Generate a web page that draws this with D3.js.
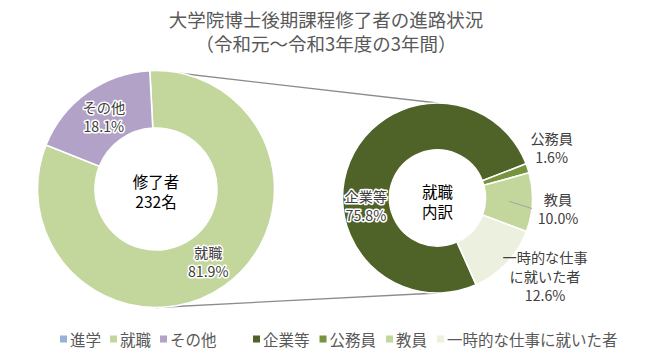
<!DOCTYPE html>
<html>
<head>
<meta charset="utf-8">
<script src="https://cdn.jsdelivr.net/npm/d3@7"></script>
<style>
  html, body { margin: 0; padding: 0; background: #fff; }
  svg { display: block; }
  text { font-family: "Noto Sans CJK JP", "Noto Sans", sans-serif; }
</style>
</head>
<body>
<svg id="chart" width="653" height="358"></svg>
<script>
// ---- data ----
const titleLines = ["大学院博士後期課程修了者の進路状況", "（令和元～令和3年度の3年間）"];
const outerCategories = ["進学", "就職", "その他"];
const outerValues = [0, 81.9, 18.1];
const innerCategories = ["企業等", "公務員", "教員", "一時的な仕事に就いた者"];
const innerValues = [75.8, 1.6, 10.0, 12.6];
const innerLabelNames = [["企業等"], ["公務員"], ["教員"], ["一時的な仕事", "に就いた者"]];
const totalGraduates = 232;
const outerCenterText = ["修了者", totalGraduates + "名"];
const innerCenterText = ["就職", "内訳"];

// ---- styles / layout ----
const outerColors = ["#95b3d7", "#c3d69b", "#b3a2c7"];
const innerColors = ["#4f6228", "#77933c", "#c3d69b", "#ebf1de"];
const deg = Math.PI / 180;
const L = { cx: 156, cy: 189, r: 118.5, ir: 61, start: -3 * deg };
const R = { cx: 437.5, cy: 198, r: 95, ir: 48, start: 156 * deg };
// label placements for the breakdown donut (angle in degrees, radius)
const innerLabelPos = [
  { a: 264, r: 72 }, { a: 66, r: 125 }, { a: 95, r: 121 }, { a: 126, r: 133 }
];
const fmt = v => d3.format(".1f")(v) + "%";

const svg = d3.select("#chart");

// title
svg.append("g").selectAll("text").data(titleLines).join("text")
  .attr("x", 326).attr("y", (d, i) => 19 + i * 23.5)
  .attr("text-anchor", "middle").attr("dominant-baseline", "central")
  .attr("font-size", 18.5).attr("fill", "#595959")
  .text(d => d);

// connectors
const conn = [
  [[L.cx, L.cy - L.r], [R.cx, R.cy - R.r]],
  [[L.cx, L.cy + L.r], [R.cx, R.cy + R.r]]
];
svg.append("g").selectAll("line").data(conn).join("line")
  .attr("x1", d => d[0][0]).attr("y1", d => d[0][1])
  .attr("x2", d => d[1][0]).attr("y2", d => d[1][1])
  .attr("stroke", "#8c8c8c").attr("stroke-width", 1.3);

function donut(cfg, cats, vals, colors) {
  const pie = d3.pie().sort(null).value(d => d.v)
    .startAngle(cfg.start).endAngle(cfg.start + 2 * Math.PI);
  const arcs = pie(cats.map((c, i) => ({ c, v: vals[i], color: colors[i] })));
  const arc = d3.arc().innerRadius(cfg.ir).outerRadius(cfg.r);
  const g = svg.append("g").attr("transform", `translate(${cfg.cx},${cfg.cy})`);
  g.selectAll("path").data(arcs.filter(d => d.data.v > 0)).join("path")
    .attr("d", arc).attr("fill", d => d.data.color)
    .attr("stroke", "#fff").attr("stroke-width", 1.6).attr("stroke-linejoin", "round");
  return { g, arcs, arc };
}

const LBL = 14.2;

// left donut
const left = donut(L, outerCategories, outerValues, outerColors);
const midArc = d3.arc().innerRadius((L.ir + L.r) / 2).outerRadius((L.ir + L.r) / 2);
left.arcs.filter(d => d.data.v > 0).forEach(d => {
  const [x, y] = midArc.centroid(d);
  const t = left.g.append("text")
    .attr("text-anchor", "middle").attr("font-size", LBL).attr("fill", "#404040")
    .attr("stroke", "#fff").attr("stroke-width", 3).attr("stroke-linejoin", "round")
    .attr("paint-order", "stroke");
  [d.data.c, fmt(d.data.v)].forEach((s, i) => {
    t.append("tspan").attr("x", x).attr("y", y - 9.5 + i * 19)
      .attr("dominant-baseline", "central").text(s);
  });
});
left.g.selectAll("text.center").data(outerCenterText).join("text").attr("class", "center")
  .attr("x", 0).attr("y", (d, i) => -8.5 + i * 20.5)
  .attr("text-anchor", "middle").attr("dominant-baseline", "central")
  .attr("font-size", 15.5).attr("fill", "#000").text(d => d);

// right donut
const right = donut(R, innerCategories, innerValues, innerColors);
const midArcR = d3.arc().innerRadius((R.ir + R.r) / 2).outerRadius((R.ir + R.r) / 2);
right.arcs.forEach((d, i) => {
  const p = innerLabelPos[i];
  const x = p.r * Math.sin(p.a * deg), y = -p.r * Math.cos(p.a * deg);
  const lines = innerLabelNames[i].concat([fmt(d.data.v)]);
  if (i === 2) {
    const [cx, cy] = midArcR.centroid(d);
    right.g.append("line").attr("x1", cx).attr("y1", cy)
      .attr("x2", x - 26).attr("y2", y)
      .attr("stroke", "#a6a6a6").attr("stroke-width", 1);
  }
  const t = right.g.append("text")
    .attr("text-anchor", "middle").attr("font-size", LBL).attr("fill", "#404040")
    .attr("stroke", "#fff").attr("stroke-width", i === 0 ? 3 : 0).attr("stroke-linejoin", "round")
    .attr("paint-order", "stroke");
  const lh = 18.8;
  lines.forEach((s, j) => {
    t.append("tspan").attr("x", x).attr("y", y - (lines.length - 1) * lh / 2 + j * lh)
      .attr("dominant-baseline", "central").text(s);
  });
});
right.g.selectAll("text.center").data(innerCenterText).join("text").attr("class", "center")
  .attr("x", 0).attr("y", (d, i) => -7.5 + i * 20.5)
  .attr("text-anchor", "middle").attr("dominant-baseline", "central")
  .attr("font-size", 15.5).attr("fill", "#000").text(d => d);

// legend
const legendGroups = [
  { x: 60, cats: outerCategories, colors: outerColors, pad: 10, gap: 9 },
  { x: 253, cats: innerCategories, colors: innerColors, pad: 10, gap: 10 }
];
const legY = 339;
legendGroups.forEach(grp => {
  let x = grp.x;
  grp.cats.forEach((c, i) => {
    svg.append("rect").attr("x", x).attr("y", legY - 3.5).attr("width", 7).attr("height", 7)
      .attr("fill", grp.colors[i]);
    const t = svg.append("text").attr("x", x + grp.pad).attr("y", legY)
      .attr("dominant-baseline", "central").attr("font-size", 15.5).attr("fill", "#595959")
      .text(c);
    x = x + grp.pad + t.node().getComputedTextLength() + grp.gap;
  });
});
</script>
</body>
</html>
